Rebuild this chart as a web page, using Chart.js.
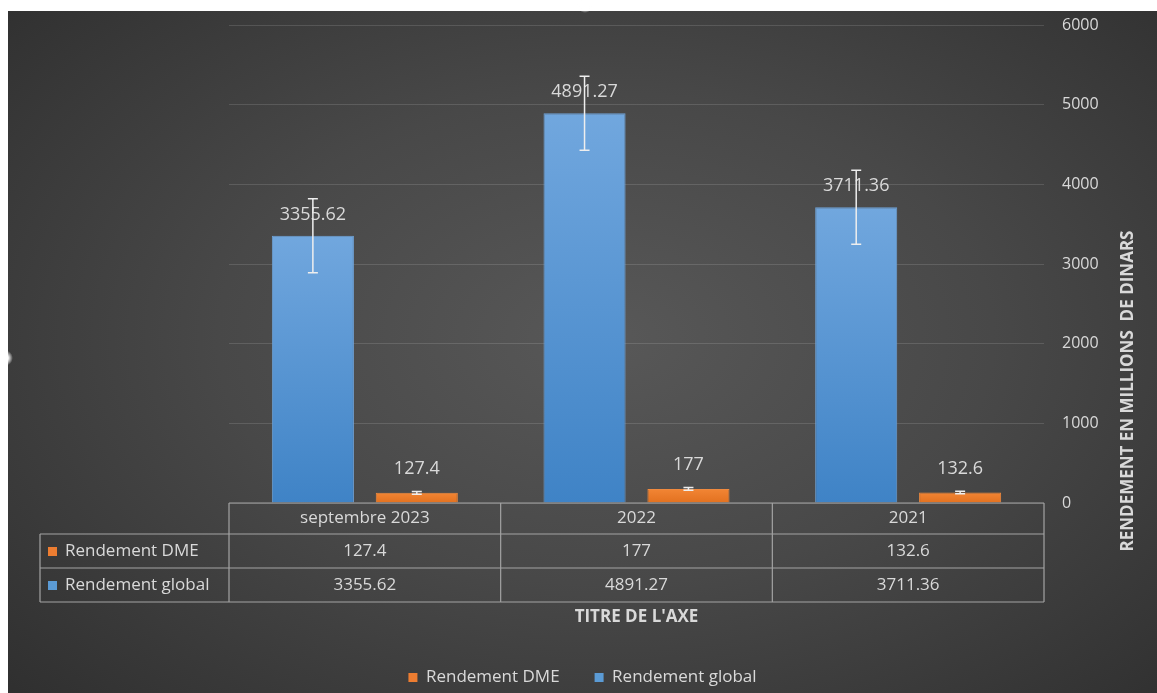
<!DOCTYPE html>
<html>
<head>
<meta charset="utf-8">
<script src="https://cdn.jsdelivr.net/npm/chart.js@4.4.1/dist/chart.umd.min.js"></script>
<style>
  body { margin: 0; background: #fff; width: 1157px; height: 693px; overflow: hidden; position: relative; }
  #frame {
    position: absolute; left: 8px; top: 11px; width: 1149px; height: 682px;
    background: radial-gradient(ellipse 75% 80% at 52% 48%, #585858 0%, #484848 45%, #2d2d2d 100%);
  }
  .handle {
    position: absolute; width: 16px; height: 16px; border-radius: 50%;
    background: radial-gradient(circle, rgba(255,255,255,0.95) 30%, rgba(255,255,255,0) 70%);
  }
</style>
</head>
<body>
<div id="frame"><canvas id="chart" width="1149" height="682"></canvas></div>
<div class="handle" style="left:577px; top:-3px;"></div>
<div class="handle" style="left:-3px; top:350px;"></div>
<script>
// valeurs
const categories = ['septembre 2023', '2022', '2021'];
const dmeValues = [127.4, 177, 132.6];
const globalValues = [3355.62, 4891.27, 3711.36];
const dmeErrors = [16, 16, 16];
const globalErrors = [464, 464, 464];
const yTicks = { min: 0, max: 6000, step: 1000 };

const textColor = '#d9d9d9';
const fontName = "'Open Sans', sans-serif";
const blueKey = '#5b9bd5';
const orangeKey = '#ed7d31';

function blueFill(context) {
    const chart = context.chart;
    const y = chart.scales.y;
    if (!chart.chartArea || !y) return blueKey;
    const top = y.getPixelForValue(context.raw);
    const g = chart.ctx.createLinearGradient(0, top, 0, chart.chartArea.bottom);
    g.addColorStop(0, '#71a7de');
    g.addColorStop(1, '#3f83c6');
    return g;
}

function orangeFill(context) {
    const chart = context.chart;
    const y = chart.scales.y;
    if (!chart.chartArea || !y) return orangeKey;
    const top = y.getPixelForValue(context.raw);
    const g = chart.ctx.createLinearGradient(0, top, 0, chart.chartArea.bottom);
    g.addColorStop(0, '#f28534');
    g.addColorStop(1, '#e2711f');
    return g;
}

// étiquettes + barres d'erreur
const barExtras = {
    id: 'barExtras',
    afterDatasetsDraw(chart) {
        const ctx = chart.ctx;
        const y = chart.scales.y;
        const errs = [globalErrors, dmeErrors];
        const offsets = [21, 24];
        ctx.save();
        ctx.font = '18px ' + fontName;
        ctx.fillStyle = textColor;
        ctx.textAlign = 'center';
        ctx.textBaseline = 'middle';
        chart.data.datasets.forEach((ds, di) => {
            chart.getDatasetMeta(di).data.forEach((bar, i) => {
                ctx.fillText(String(ds.data[i]), bar.x, bar.y - offsets[di]);
            });
        });
        ctx.strokeStyle = '#eeeeee';
        ctx.lineWidth = 1.5;
        chart.data.datasets.forEach((ds, di) => {
            chart.getDatasetMeta(di).data.forEach((bar, i) => {
                const v = ds.data[i];
                const e = errs[di][i];
                const top = y.getPixelForValue(v + e);
                const bot = y.getPixelForValue(v - e);
                ctx.beginPath();
                ctx.moveTo(bar.x, top); ctx.lineTo(bar.x, bot);
                ctx.moveTo(bar.x - 5, top); ctx.lineTo(bar.x + 5, top);
                ctx.moveTo(bar.x - 5, bot); ctx.lineTo(bar.x + 5, bot);
                ctx.stroke();
            });
        });
        ctx.restore();
    }
};

// table de données sous l'axe
const dataTable = {
    id: 'dataTable',
    afterDraw(chart) {
        const ctx = chart.ctx;
        const area = chart.chartArea;
        const x = chart.scales.x;
        const colW = (area.right - area.left) / categories.length;
        const rows = [area.bottom, area.bottom + 31, area.bottom + 65, area.bottom + 99];
        const leftX = 32;
        ctx.save();
        ctx.strokeStyle = '#a3a3a3';
        ctx.lineWidth = 1.2;
        ctx.beginPath();
        // lignes horizontales
        ctx.moveTo(area.left, rows[0]); ctx.lineTo(area.right, rows[0]);
        for (let r = 1; r < rows.length; r++) {
            ctx.moveTo(leftX, rows[r]); ctx.lineTo(area.right, rows[r]);
        }
        // lignes verticales
        ctx.moveTo(leftX, rows[1]); ctx.lineTo(leftX, rows[3]);
        for (let c = 0; c <= categories.length; c++) {
            const cx = c < categories.length ? x.getPixelForValue(c) - colW / 2 : area.right;
            ctx.moveTo(cx, rows[0]); ctx.lineTo(cx, rows[3]);
        }
        ctx.stroke();

        ctx.font = '17px ' + fontName;
        ctx.fillStyle = textColor;
        ctx.textBaseline = 'middle';
        ctx.textAlign = 'center';
        const tableRows = [
            { label: 'Rendement DME', color: orangeKey, values: dmeValues },
            { label: 'Rendement global', color: blueKey, values: globalValues }
        ];
        categories.forEach((c, i) => {
            ctx.fillText(c, x.getPixelForValue(i), (rows[0] + rows[1]) / 2);
        });
        tableRows.forEach((row, r) => {
            const cy = (rows[r + 1] + rows[r + 2]) / 2;
            row.values.forEach((v, i) => {
                ctx.fillText(String(v), x.getPixelForValue(i), cy);
            });
            ctx.fillStyle = row.color;
            ctx.fillRect(leftX + 8, cy - 4, 9, 9);
            ctx.fillStyle = textColor;
            ctx.textAlign = 'left';
            ctx.fillText(row.label, leftX + 25, cy);
            ctx.textAlign = 'center';
        });

        // titre de l'axe vertical, écrit de bas en haut
        ctx.font = 'bold 17px ' + fontName;
        ctx.translate(1120, 380);
        ctx.rotate(-Math.PI / 2);
        ctx.fillText('RENDEMENT EN MILLIONS  DE DINARS', 0, 0);
        ctx.restore();
    }
};

new Chart(document.getElementById('chart'), {
    type: 'bar',
    data: {
        labels: categories,
        datasets: [
            {
                label: 'Rendement global',
                data: globalValues,
                yAxisID: 'y',
                backgroundColor: blueFill,
                borderColor: '#6fa2d6',
                borderWidth: 1,
                categoryPercentage: 0.765,
                barPercentage: 0.79
            },
            {
                label: 'Rendement DME',
                data: dmeValues,
                yAxisID: 'y',
                backgroundColor: orangeFill,
                borderColor: '#f08a3f',
                borderWidth: 1,
                categoryPercentage: 0.765,
                barPercentage: 0.79
            }
        ]
    },
    options: {
        responsive: false,
        animation: false,
        layout: { padding: { left: 0, top: 14, right: 0, bottom: -3 } },
        plugins: {
            tooltip: { enabled: false },
            legend: {
                position: 'bottom',
                reverse: true,
                labels: {
                    color: textColor,
                    font: { family: fontName, size: 17 },
                    boxWidth: 9,
                    boxHeight: 9,
                    padding: 35,
                    generateLabels(chart) {
                        const keys = [blueKey, orangeKey];
                        return chart.data.datasets.map((ds, i) => ({
                            text: ds.label,
                            fillStyle: keys[i],
                            strokeStyle: keys[i],
                            lineWidth: 0,
                            fontColor: textColor,
                            datasetIndex: i,
                            hidden: false
                        }));
                    }
                }
            }
        },
        scales: {
            x: {
                grid: { display: false },
                border: { display: false },
                ticks: { display: false },
                title: {
                    display: true,
                    text: "TITRE DE L'AXE",
                    color: textColor,
                    font: { family: fontName, size: 17, weight: 'bold' },
                    padding: { top: 0, bottom: 7 }
                },
                afterFit(scale) { scale.height = 131; }
            },
            // axe vide à gauche : réserve la place de la colonne des libellés
            spacer: {
                type: 'linear',
                position: 'left',
                grid: { display: false },
                border: { display: false },
                ticks: { display: false },
                afterFit(scale) { scale.width = 221; }
            },
            y: {
                position: 'right',
                min: yTicks.min,
                max: yTicks.max,
                grid: {
                    color: 'rgba(255,255,255,0.13)',
                    lineWidth: 1,
                    drawTicks: true,
                    tickLength: 18,
                    tickColor: 'rgba(0,0,0,0)'
                },
                border: { display: false },
                ticks: {
                    stepSize: yTicks.step,
                    color: textColor,
                    font: { family: fontName, size: 16 },
                    padding: 0,
                    callback: (v) => String(v)
                },
                afterFit(scale) { scale.width = 113; }
            }
        }
    },
    plugins: [barExtras, dataTable]
});
</script>
</body>
</html>
